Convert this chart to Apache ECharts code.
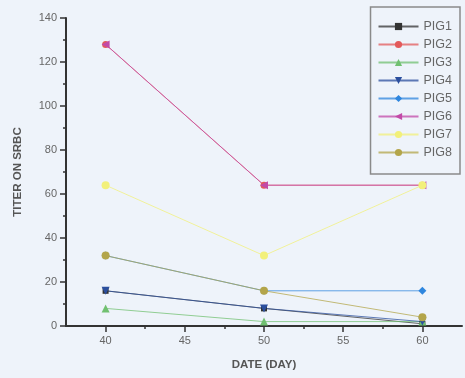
<!DOCTYPE html>
<html><head><meta charset="utf-8">
<script src="https://cdn.jsdelivr.net/npm/echarts@6/dist/echarts.min.js"></script>
<style>html,body{margin:0;padding:0;background:#eef3fa;}#c{width:465px;height:378px;}</style>
</head><body><div id="c"></div>
<script>
const days = [40, 50, 60];
const pig1 = [16, 8, 1];
const pig2 = [128, 64, 64];
const pig3 = [8, 2, 2];
const pig4 = [16, 8, 2];
const pig5 = [32, 16, 16];
const pig6 = [128, 64, 64];
const pig7 = [64, 32, 64];
const pig8 = [32, 16, 4];
const seriesNames = ['PIG1','PIG2','PIG3','PIG4','PIG5','PIG6','PIG7','PIG8'];
const xMajorTicks = [40, 45, 50, 55, 60];
const xMinorTicks = [42.5, 47.5, 52.5, 57.5];

const values = [pig1, pig2, pig3, pig4, pig5, pig6, pig7, pig8];
const colors = ['#333333','#e35a5a','#70c070','#2b4f9e','#2e86de','#c24aa8','#f2f07a','#b3a54a'];
const symbols = ['rect','circle','triangle','path://M0,0 L10,0 L5,9 Z','diamond','path://M9,0 L9,10 L0,5 Z','circle','circle'];
const sizes = [6,7,8,8,8,8,8,8];

const chart = echarts.init(document.getElementById('c'));
const font = 'Liberation Sans, Arial, sans-serif';
chart.setOption({
  backgroundColor: '#eef3fa',
  animation: false,
  grid: {left: 66, right: 3, top: 18, bottom: 52},
  legend: {
    orient: 'vertical', right: 5, top: 7,
    itemWidth: 40, itemHeight: 9, itemGap: 5,
    padding: [13, 8, 15, 7],
    borderColor: '#8a8a8a', borderWidth: 1.5,
    textStyle: {color: '#666', fontSize: 12.5, fontFamily: font},
    data: seriesNames
  },
  xAxis: [{
    type: 'value', min: 37.5, max: 62.5,
    name: 'DATE (DAY)', nameLocation: 'middle', nameGap: 33,
    nameTextStyle: {color: '#555', fontSize: 11.5, fontWeight: 'bold', fontFamily: font},
    axisLine: {show: true, onZero: false, lineStyle: {color: '#333', width: 2}},
    axisTick: {show: true, customValues: xMajorTicks, length: 6, lineStyle: {color: '#333', width: 1.5}},
    axisLabel: {customValues: xMajorTicks, color: '#666', fontSize: 11, fontFamily: font, margin: 9},
    splitLine: {show: false}
  }, {
    type: 'value', min: 37.5, max: 62.5, position: 'bottom',
    axisLine: {show: false},
    axisTick: {show: true, customValues: xMinorTicks, length: 3, lineStyle: {color: '#333', width: 1.5}},
    axisLabel: {show: false},
    splitLine: {show: false}
  }],
  yAxis: {
    type: 'value', min: 0, max: 140, interval: 20,
    name: 'TITER ON SRBC', nameLocation: 'middle', nameGap: 42, nameRotate: 90,
    nameTextStyle: {color: '#555', fontSize: 11.5, fontWeight: 'bold', fontFamily: font},
    axisLine: {show: true, lineStyle: {color: '#333', width: 2}},
    axisTick: {show: true, length: 6, lineStyle: {color: '#333', width: 1.5}},
    minorTick: {show: true, splitNumber: 2, length: 3, lineStyle: {color: '#333', width: 1.5}},
    axisLabel: {color: '#666', fontSize: 11, fontFamily: font, margin: 9},
    splitLine: {show: false}
  },
  series: seriesNames.map((n, i) => ({
    name: n, type: 'line', xAxisIndex: 0,
    data: days.map((d, j) => [d, values[i][j]]),
    symbol: symbols[i], symbolSize: sizes[i],
    itemStyle: {color: colors[i]},
    lineStyle: {color: colors[i], width: 1, opacity: 0.75}
  }))
});
</script></body></html>
